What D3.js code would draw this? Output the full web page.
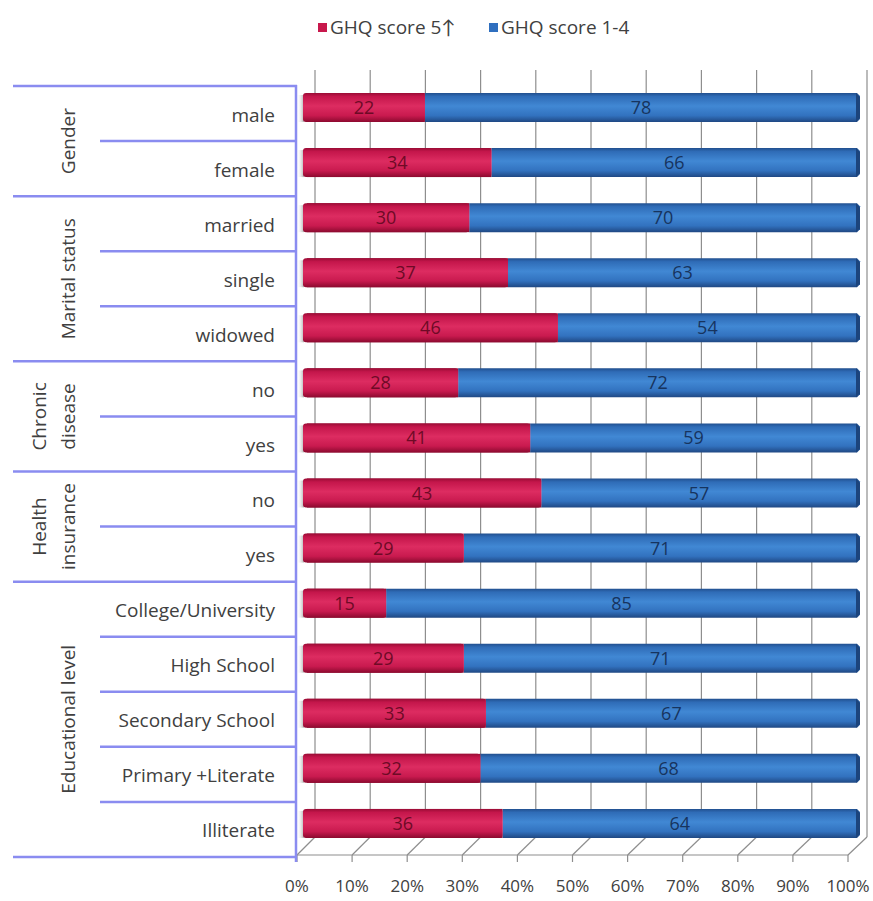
<!DOCTYPE html>
<html>
<head>
<meta charset="utf-8">
<script src="https://cdn.jsdelivr.net/npm/d3@7"></script>
<style>
  html, body { margin: 0; padding: 0; background: #ffffff; }
  svg { display: block; }
  text { font-family: "Open Sans", Lato, sans-serif; }
</style>
</head>
<body>
<svg id="chart" width="873" height="901"></svg>
<script>
// ---------- data ----------
const categories = ["male", "female", "married", "single", "widowed", "no", "yes", "no", "yes",
  "College/University", "High School", "Secondary School", "Primary +Literate", "Illiterate"];
const groups = [
  { name: ["Gender"], count: 2 },
  { name: ["Marital status"], count: 3 },
  { name: ["Chronic", "disease"], count: 2 },
  { name: ["Health", "insurance"], count: 2 },
  { name: ["Educational level"], count: 5 }
];
const ghq5up = [22, 34, 30, 37, 46, 28, 41, 43, 29, 15, 29, 33, 32, 36];
const ghq14  = [78, 66, 70, 63, 54, 72, 59, 57, 71, 85, 71, 67, 68, 64];
const seriesNames = ["GHQ score 5\u2191", "GHQ score 1-4"];
const tickValues = [0, 10, 20, 30, 40, 50, 60, 70, 80, 90, 100];
const tickLabels = tickValues.map(v => v + "%");

// ---------- layout ----------
const svg = d3.select("#chart");
const rowKeys = categories.map((c, i) => i);
const y = d3.scaleBand().domain(rowKeys).range([86, 857]).paddingInner(0).paddingOuter(0);
const xFront = d3.scaleLinear().domain([0, 100]).range([297, 848]);
const xBack  = d3.scaleLinear().domain([0, 100]).range([315, 867]);
const xBar   = d3.scaleLinear().domain([0, 100]).range([303, 857]);
const backTop = 70, backBottom = 837, frontY = 855;
const lineBlue = "#8a8cf0";
const gridCol = "#8e8e8e";

// gradients
const defs = svg.append("defs");
function grad(id, stops) {
  const g = defs.append("linearGradient").attr("id", id).attr("x1", 0).attr("y1", 0).attr("x2", 0).attr("y2", 1);
  stops.forEach(s => g.append("stop").attr("offset", s[0]).attr("stop-color", s[1]));
}
grad("gRed", [[0, "#9a0c35"], [0.12, "#c4164b"], [0.45, "#dd2c61"], [0.78, "#c91a4f"], [1, "#8c0a2f"]]);
grad("gBlue", [[0, "#214f8e"], [0.12, "#2f6cb7"], [0.45, "#4188d4"], [0.78, "#3272bf"], [1, "#1f4883"]]);
const shadow = defs.append("linearGradient").attr("id", "gShadow").attr("x1", 0).attr("x2", 1).attr("y1", 0).attr("y2", 0);
shadow.append("stop").attr("offset", 0).attr("stop-color", "#ffffff").attr("stop-opacity", 0);
shadow.append("stop").attr("offset", 1).attr("stop-color", "#9a9a9a").attr("stop-opacity", 0.8);

// ---------- back wall gridlines & floor ----------
const grid = svg.append("g");
tickValues.forEach(v => {
  grid.append("line").attr("x1", xBack(v)).attr("x2", xBack(v)).attr("y1", backTop).attr("y2", backBottom)
    .attr("stroke", gridCol).attr("stroke-width", 1.2);
  grid.append("line").attr("x1", xBack(v)).attr("x2", xFront(v)).attr("y1", backBottom).attr("y2", frontY)
    .attr("stroke", gridCol).attr("stroke-width", 1.2);
  grid.append("line").attr("x1", xFront(v)).attr("x2", xFront(v)).attr("y1", frontY).attr("y2", frontY + 7)
    .attr("stroke", gridCol).attr("stroke-width", 1.2);
});
grid.append("line").attr("x1", xFront(0)).attr("x2", xFront(100)).attr("y1", frontY).attr("y2", frontY)
  .attr("stroke", gridCol).attr("stroke-width", 1.2);

// axis labels
svg.append("g").selectAll("text").data(tickValues).join("text")
  .attr("x", d => xFront(d)).attr("y", 892).attr("text-anchor", "middle")
  .attr("font-size", 17).attr("fill", "#404040")
  .text((d, i) => tickLabels[i]);

// ---------- bars ----------
const barH = 29, barOff = 7;
const bars = svg.append("g");
rowKeys.forEach(i => {
  const top = y(i) + barOff;
  // left shadow
  bars.append("rect").attr("x", 297).attr("y", top + 2).attr("width", 7).attr("height", barH - 2)
    .attr("fill", "url(#gShadow)");
  // blue (full)
  bars.append("path")
    .attr("d", `M${xBar(ghq5up[i])},${top} L${xBar(100)},${top} L${xBar(100) + 3},${top + 3} L${xBar(100) + 3},${top + barH - 3} L${xBar(100)},${top + barH} L${xBar(ghq5up[i])},${top + barH} Z`)
    .attr("fill", "url(#gBlue)");
  // end face
  bars.append("path")
    .attr("d", `M${xBar(100) - 1},${top} L${xBar(100) + 3},${top + 4} L${xBar(100) + 3},${top + barH - 4} L${xBar(100) - 1},${top + barH} Z`)
    .attr("fill", "#1c447c");
  // red
  bars.append("rect").attr("x", xBar(0)).attr("y", top).attr("width", xBar(ghq5up[i]) - xBar(0)).attr("height", barH)
    .attr("rx", 3).attr("fill", "url(#gRed)");
  bars.append("rect").attr("x", xBar(0) + 4).attr("y", top).attr("width", xBar(ghq5up[i]) - xBar(0) - 4).attr("height", barH)
    .attr("fill", "url(#gRed)");
  // value labels
  bars.append("text").attr("x", (xBar(0) + xBar(ghq5up[i])) / 2).attr("y", top + barH / 2 + 6.5)
    .attr("text-anchor", "middle").attr("font-size", 18).attr("fill", "#6e0a26").text(ghq5up[i]);
  bars.append("text").attr("x", (xBar(ghq5up[i]) + xBar(100)) / 2).attr("y", top + barH / 2 + 6.5)
    .attr("text-anchor", "middle").attr("font-size", 18).attr("fill", "#17345e").text(ghq14[i]);
});

// ---------- category panel ----------
const panel = svg.append("g");
const rowY = d3.range(categories.length + 1).map(k => k < categories.length ? y(k) : y.range()[1]);
let acc = 0;
const groupStarts = [];
groups.forEach(g => { groupStarts.push(acc); acc += g.count; });
const groupBoundaryIdx = new Set([...groupStarts, categories.length]);
rowY.forEach((yy, k) => {
  const full = groupBoundaryIdx.has(k);
  panel.append("line").attr("x1", full ? 13 : 100).attr("x2", 297).attr("y1", yy).attr("y2", yy)
    .attr("stroke", lineBlue).attr("stroke-width", 2.5);
});
panel.append("line").attr("x1", 296).attr("x2", 296).attr("y1", 85).attr("y2", 862)
  .attr("stroke", lineBlue).attr("stroke-width", 2.5);

// row labels
panel.selectAll("text.row").data(categories).join("text").attr("class", "row")
  .attr("x", 275).attr("y", (d, i) => y(i) + y.bandwidth() / 2 + 8)
  .attr("text-anchor", "end").attr("font-size", 19).attr("fill", "#404040").text(d => d);

// group labels
groups.forEach((g, gi) => {
  const y0 = y(groupStarts[gi]);
  const y1 = y0 + g.count * y.bandwidth();
  const cy = (y0 + y1) / 2;
  const n = g.name.length;
  g.name.forEach((line, li) => {
    const cx = n === 1 ? 75 : (li === 0 ? 46 : 75);
    panel.append("text").attr("transform", `translate(${cx},${cy}) rotate(-90)`)
      .attr("text-anchor", "middle").attr("font-size", 19).attr("fill", "#404040").text(line);
  });
});

// ---------- legend ----------
const legend = svg.append("g");
const legendItems = [
  { name: seriesNames[0], color: "#c8184c", x: 318 },
  { name: seriesNames[1], color: "#2f6fbf", x: 489 }
];
legendItems.forEach(it => {
  legend.append("rect").attr("x", it.x).attr("y", 23).attr("width", 9).attr("height", 9).attr("fill", it.color);
  legend.append("text").attr("x", it.x + 12).attr("y", 34).attr("font-size", 19).attr("fill", "#404040").text(it.name);
});
</script>
</body>
</html>
